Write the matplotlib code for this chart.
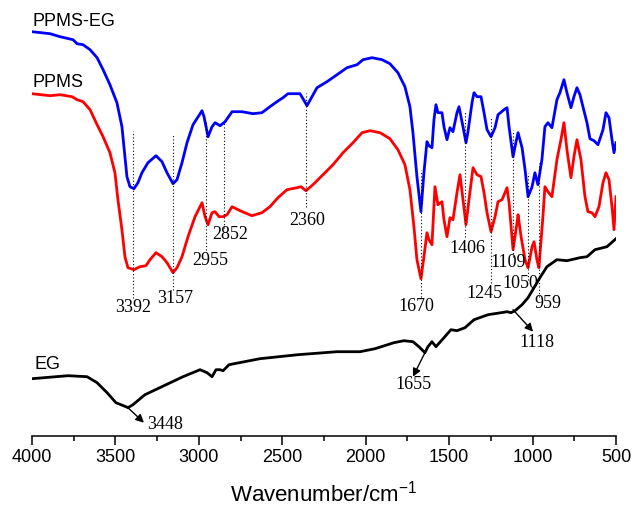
import matplotlib
matplotlib.use("Agg")
import matplotlib.pyplot as plt
from matplotlib.ticker import MultipleLocator

plt.rcParams.update({
    "font.family": ["Liberation Sans", "DejaVu Sans"],
    "mathtext.default": "regular",
    "xtick.labelsize": 13,
})

# transmittance in arbitrary units
wn_blue = [4000, 3892, 3832, 3754, 3730, 3694, 3652, 3610, 3574, 3533, 3491, 3461, 3443, 3431,
           3413, 3389, 3365, 3341, 3305, 3257, 3221, 3191, 3155, 3131, 3101, 3071, 3035, 2981,
           2969, 2945, 2921, 2903, 2873, 2843, 2801, 2741, 2676, 2622, 2574, 2532, 2496, 2466,
           2394, 2376, 2352, 2322, 2292, 2232, 2172, 2112, 2052, 2016, 1962, 1902, 1855, 1807,
           1765, 1735, 1717, 1693, 1669, 1651, 1633, 1621, 1603, 1591, 1579, 1567, 1543, 1531,
           1513, 1495, 1477, 1453, 1441, 1417, 1399, 1387, 1363, 1351, 1333, 1309, 1291, 1273,
           1249, 1225, 1207, 1171, 1153, 1141, 1117, 1099, 1087, 1063, 1045, 1027, 1003, 986,
           968, 944, 926, 908, 884, 854, 836, 812, 794, 770, 752, 734, 716, 674, 656, 632, 608,
           578, 560, 542, 524, 512, 500]
t_blue = [404, 402, 399, 396, 392, 391, 386, 378, 366, 351, 333, 309, 279, 259,
          249, 247, 253, 263, 273, 280, 274, 263, 252, 256, 273, 293, 311, 325,
          319, 299, 309, 313, 310, 314, 324, 324, 322, 323, 329, 334, 338, 342,
          342, 337, 330, 339, 348, 354, 361, 368, 371, 376, 378, 376, 372, 363,
          349, 329, 303, 259, 224, 263, 294, 290, 288, 316, 331, 323, 323, 309,
          296, 308, 304, 323, 329, 309, 293, 304, 333, 343, 339, 339, 323, 306,
          299, 308, 321, 326, 328, 309, 279, 294, 303, 288, 266, 239, 249, 263,
          251, 276, 309, 313, 308, 336, 343, 356, 343, 328, 339, 348, 341, 313, 297, 295, 291,
          306, 323, 318, 296, 283, 293]

wn_red = [4000, 3892, 3832, 3760, 3730, 3694, 3652, 3610, 3574, 3533, 3503, 3485, 3461, 3443,
          3425, 3389, 3353, 3317, 3293, 3257, 3221, 3191, 3155, 3131, 3101, 3065, 3023, 2981,
          2963, 2945, 2921, 2903, 2879, 2855, 2831, 2801, 2753, 2682, 2622, 2574, 2526, 2472,
          2412, 2388, 2358, 2316, 2256, 2196, 2136, 2076, 2022, 1974, 1914, 1855, 1807, 1765,
          1735, 1711, 1693, 1669, 1651, 1633, 1621, 1603, 1585, 1567, 1543, 1531, 1513, 1495,
          1477, 1453, 1435, 1417, 1399, 1381, 1357, 1333, 1309, 1291, 1273, 1249, 1225, 1207,
          1183, 1153, 1141, 1117, 1093, 1087, 1069, 1045, 1027, 1003, 991, 974, 962, 938, 926,
          908, 884, 854, 830, 812, 794, 770, 752, 734, 710, 686, 668, 644, 626, 602, 578, 560,
          542, 524, 512, 500]
t_red = [342, 340, 341, 339, 336, 334, 326, 311, 299, 283, 263, 236, 206, 179,
         168, 166, 169, 170, 176, 183, 179, 173, 163, 168, 179, 199, 219, 233,
         219, 211, 223, 224, 219, 219, 221, 229, 225, 220, 223, 229, 238, 246,
         248, 249, 245, 251, 261, 271, 283, 293, 303, 305, 303, 297, 286, 271,
         246, 209, 176, 157, 179, 203, 196, 191, 249, 231, 234, 216, 199, 218,
         216, 243, 261, 236, 211, 236, 268, 261, 259, 243, 223, 204, 219, 234,
         236, 248, 233, 186, 213, 221, 199, 176, 168, 189, 194, 176, 168, 219, 249,
         244, 239, 276, 296, 313, 286, 258, 279, 296, 276, 239, 224, 223, 219, 229, 253, 263,
         256, 229, 206, 239]

wn_black = [4000, 3784, 3670, 3610, 3550, 3497, 3437, 3425, 3395, 3323, 3209, 3095, 2993, 2951,
            2921, 2897, 2873, 2855, 2819, 2634, 2406, 2172, 2034, 1944, 1831, 1771, 1717, 1681,
            1645, 1627, 1603, 1579, 1531, 1489, 1453, 1405, 1351, 1267, 1189, 1153, 1129, 1105,
            1063, 1027, 956, 914, 854, 794, 716, 674, 626, 554, 500]
t_black = [57, 60, 59, 53, 43, 33, 29, 28, 31, 41, 50, 59, 66, 63,
           59, 66, 66, 65, 71, 77, 81, 84, 84, 87, 93, 95, 94, 89,
           83, 89, 94, 89, 98, 106, 105, 108, 116, 121, 123, 124, 123, 125,
           131, 138, 158, 169, 176, 175, 178, 179, 186, 189, 197]

# dotted peak markers: position, line top, line bottom, label, label position
peak_pos = [3393, 3153, 2955, 2852, 2360, 1670, 1406, 1250, 1115, 1025, 960]
peak_top = [305, 301, 315, 313, 343, 266, 324, 319, 306, 263, 273]
peak_bot = [138, 146, 186, 208, 229, 139, 199, 153, 179, 156, 139]
peak_lbl = ["3392", "3157", "2955", "2852", "2360", "1670", "1406", "1245", "1109", "1050", "959"]
lbl_x = [3395, 3143, 2933, 2813, 2352, 1699, 1393, 1291, 1147, 1075, 908]
lbl_y = [128, 137, 175, 201, 215, 129, 187, 142, 173, 152, 132]

# EG arrows: label, arrow tail (on curve), arrow head, text position
eg_lbl = ["3448", "1655", "1118"]
eg_from = [(3425, 28), (1645, 83), (1117, 126)]
eg_to = [(3329, 13), (1717, 59), (997, 104)]
eg_txt = [(3203, 11), (1711, 51), (974, 93)]

fig = plt.figure(figsize=(6.33, 5.07), dpi=100)
ax = fig.add_axes([32 / 633, 71.3 / 507, 584 / 633, 435.7 / 507])

ax.plot(wn_blue, t_blue, color="#0000ff", lw=2.0, solid_joinstyle="round")
ax.plot(wn_red, t_red, color="#ff0000", lw=2.0, solid_joinstyle="round")
ax.plot(wn_black, t_black, color="black", lw=2.0, solid_joinstyle="round")

for x, y0, y1 in zip(peak_pos, peak_top, peak_bot):
    ax.plot([x, x], [y1, y0], color="black", lw=0.8, ls=(0, (1, 2)))
for s, x, y in zip(peak_lbl, lbl_x, lbl_y):
    ax.text(x, y, s, ha="center", va="center", fontsize=13, family="Liberation Serif")

for s, a, b, t in zip(eg_lbl, eg_from, eg_to, eg_txt):
    ax.annotate("", xy=b, xytext=a,
                arrowprops=dict(arrowstyle="-|>", color="black", lw=1.0, mutation_scale=12,
                                shrinkA=0, shrinkB=0))
    ax.text(t[0], t[1], s, ha="center", va="center", fontsize=13, family="Liberation Serif")

ax.text(4000, 414, "PPMS-EG", ha="left", va="center", fontsize=13)
ax.text(4000, 353, "PPMS", ha="left", va="center", fontsize=13)
ax.text(3988, 71, "EG", ha="left", va="center", fontsize=13)

ax.set_xlim(4000, 500)
ax.set_ylim(0, 435.7)
ax.xaxis.set_major_locator(MultipleLocator(500))
ax.xaxis.set_minor_locator(MultipleLocator(250))
ax.tick_params(axis="x", which="major", direction="out", length=6.3, width=1.1)
ax.tick_params(axis="x", which="minor", direction="out", length=3.6, width=1.1)
ax.set_yticks([])
for side in ["left", "right", "top"]:
    ax.spines[side].set_visible(False)
ax.spines["bottom"].set_linewidth(1.1)
ax.set_xlabel("Wavenumber/cm$^{-1}$", fontsize=16, labelpad=10)
ax.patch.set_visible(False)

fig.savefig("out.png", dpi=100)
